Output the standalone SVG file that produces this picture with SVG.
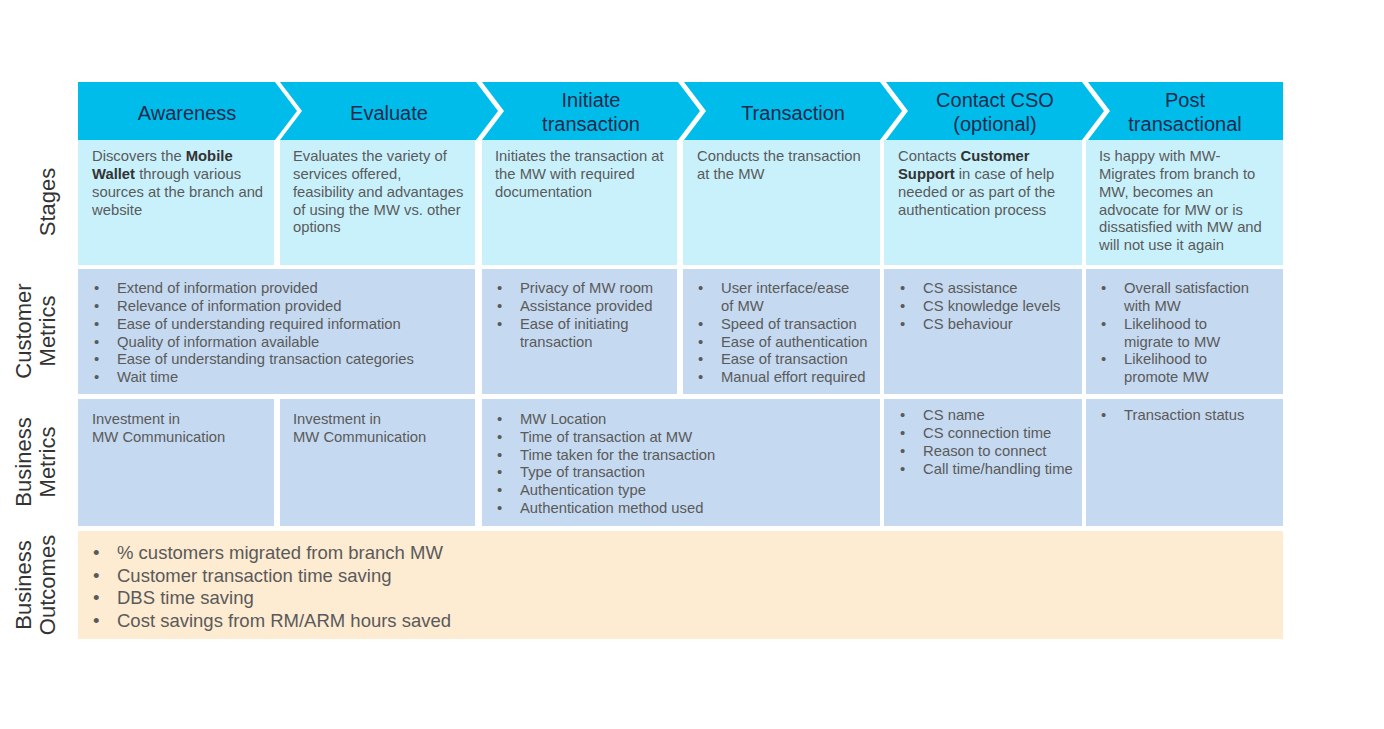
<svg xmlns="http://www.w3.org/2000/svg" width="1384" height="729" viewBox="0 0 1384 729">
<style>
.hd{fill:#00BCEB}
.st{fill:#C8F1FC}
.mt{fill:#C5D9F0}
.oc{fill:#FDEBD2}
.ht{font-family:"Liberation Sans",Arial,sans-serif;font-size:20px;fill:#1E2B4C;text-anchor:middle}
.tx{font-family:"Liberation Sans",Arial,sans-serif;font-size:14.8px;fill:#5A5A5A}
.b{font-weight:bold;fill:#333333}
.ob{font-family:"Liberation Sans",Arial,sans-serif;font-size:18.5px;fill:#5A5A5A}
.lb{font-family:"Liberation Sans",Arial,sans-serif;font-size:22px;fill:#333333;text-anchor:middle}
</style>
<rect width="1384" height="729" fill="#ffffff"/>

<g id="row-labels">
<text class="lb" transform="rotate(-90)" x="-202" y="55">Stages</text>
<text class="lb" transform="rotate(-90)" x="-331" y="31">Customer</text>
<text class="lb" transform="rotate(-90)" x="-331" y="55">Metrics</text>
<text class="lb" transform="rotate(-90)" x="-462" y="31">Business</text>
<text class="lb" transform="rotate(-90)" x="-462" y="55">Metrics</text>
<text class="lb" transform="rotate(-90)" x="-585" y="31">Business</text>
<text class="lb" transform="rotate(-90)" x="-585" y="55">Outcomes</text>
</g>

<g id="header-awareness">
<path class="hd" d="M78,82 L275,82 L297,111 L275,140 L78,140 Z"/>
<text class="ht" x="187" y="120">Awareness</text>
</g>
<g id="header-evaluate">
<path class="hd" d="M280,82 L476,82 L498,111 L476,140 L280,140 L302,111 Z"/>
<text class="ht" x="389" y="120">Evaluate</text>
</g>
<g id="header-initiate">
<path class="hd" d="M482,82 L678,82 L700,111 L678,140 L482,140 L504,111 Z"/>
<text class="ht" x="591" y="107">Initiate</text>
<text class="ht" x="591" y="131">transaction</text>
</g>
<g id="header-transaction">
<path class="hd" d="M684,82 L880,82 L902,111 L880,140 L684,140 L706,111 Z"/>
<text class="ht" x="793" y="120">Transaction</text>
</g>
<g id="header-contact">
<path class="hd" d="M886,82 L1082,82 L1104,111 L1082,140 L886,140 L908,111 Z"/>
<text class="ht" x="995" y="107">Contact CSO</text>
<text class="ht" x="995" y="131">(optional)</text>
</g>
<g id="header-post">
<path class="hd" d="M1088,82 L1283,82 L1283,140 L1088,140 L1110,111 Z"/>
<text class="ht" x="1185" y="107">Post</text>
<text class="ht" x="1185" y="131">transactional</text>
</g>

<g id="stage-awareness">
<rect class="st" x="78" y="140" width="196" height="125"/>
<text class="tx" x="92" y="161">Discovers the <tspan class="b">Mobile</tspan></text>
<text class="tx" x="92" y="179"><tspan class="b">Wallet</tspan> through various</text>
<text class="tx" x="92" y="197">sources at the branch and</text>
<text class="tx" x="92" y="215">website</text>
</g>
<g id="stage-evaluate">
<rect class="st" x="280" y="140" width="195" height="125"/>
<text class="tx" x="293" y="161">Evaluates the variety of</text>
<text class="tx" x="293" y="179">services offered,</text>
<text class="tx" x="293" y="197">feasibility and advantages</text>
<text class="tx" x="293" y="215">of using the MW vs. other</text>
<text class="tx" x="293" y="232">options</text>
</g>
<g id="stage-initiate">
<rect class="st" x="482" y="140" width="195" height="125"/>
<text class="tx" x="495" y="161">Initiates the transaction at</text>
<text class="tx" x="495" y="179">the MW with required</text>
<text class="tx" x="495" y="197">documentation</text>
</g>
<g id="stage-transaction">
<rect class="st" x="683" y="140" width="197" height="125"/>
<text class="tx" x="697" y="161">Conducts the transaction</text>
<text class="tx" x="697" y="179">at the MW</text>
</g>
<g id="stage-contact">
<rect class="st" x="884" y="140" width="198" height="125"/>
<text class="tx" x="898" y="161">Contacts <tspan class="b">Customer</tspan></text>
<text class="tx" x="898" y="179"><tspan class="b">Support</tspan> in case of help</text>
<text class="tx" x="898" y="197">needed or as part of the</text>
<text class="tx" x="898" y="215">authentication process</text>
</g>
<g id="stage-post">
<rect class="st" x="1086" y="140" width="197" height="125"/>
<text class="tx" x="1099" y="161">Is happy with MW-</text>
<text class="tx" x="1099" y="179">Migrates from branch to</text>
<text class="tx" x="1099" y="197">MW, becomes an</text>
<text class="tx" x="1099" y="215">advocate for MW or is</text>
<text class="tx" x="1099" y="232">dissatisfied with MW and</text>
<text class="tx" x="1099" y="250">will not use it again</text>
</g>

<g id="cm-awareness-evaluate">
<rect class="mt" x="78" y="269" width="397" height="125"/>
<text class="tx" x="94" y="293">•</text><text class="tx" x="117" y="293">Extend of information provided</text>
<text class="tx" x="94" y="311">•</text><text class="tx" x="117" y="311">Relevance of information provided</text>
<text class="tx" x="94" y="329">•</text><text class="tx" x="117" y="329">Ease of understanding required information</text>
<text class="tx" x="94" y="347">•</text><text class="tx" x="117" y="347">Quality of information available</text>
<text class="tx" x="94" y="364">•</text><text class="tx" x="117" y="364">Ease of understanding transaction categories</text>
<text class="tx" x="94" y="382">•</text><text class="tx" x="117" y="382">Wait time</text>
</g>
<g id="cm-initiate">
<rect class="mt" x="482" y="269" width="195" height="125"/>
<text class="tx" x="497" y="293">•</text><text class="tx" x="520" y="293">Privacy of MW room</text>
<text class="tx" x="497" y="311">•</text><text class="tx" x="520" y="311">Assistance provided</text>
<text class="tx" x="497" y="329">•</text><text class="tx" x="520" y="329">Ease of initiating</text>
<text class="tx" x="520" y="347">transaction</text>
</g>
<g id="cm-transaction">
<rect class="mt" x="683" y="269" width="197" height="125"/>
<text class="tx" x="698" y="293">•</text><text class="tx" x="721" y="293">User interface/ease</text>
<text class="tx" x="721" y="311">of MW</text>
<text class="tx" x="698" y="329">•</text><text class="tx" x="721" y="329">Speed of transaction</text>
<text class="tx" x="698" y="347">•</text><text class="tx" x="721" y="347">Ease of authentication</text>
<text class="tx" x="698" y="364">•</text><text class="tx" x="721" y="364">Ease of transaction</text>
<text class="tx" x="698" y="382">•</text><text class="tx" x="721" y="382">Manual effort required</text>
</g>
<g id="cm-contact">
<rect class="mt" x="884" y="269" width="198" height="125"/>
<text class="tx" x="900" y="293">•</text><text class="tx" x="923" y="293">CS assistance</text>
<text class="tx" x="900" y="311">•</text><text class="tx" x="923" y="311">CS knowledge levels</text>
<text class="tx" x="900" y="329">•</text><text class="tx" x="923" y="329">CS behaviour</text>
</g>
<g id="cm-post">
<rect class="mt" x="1086" y="269" width="197" height="125"/>
<text class="tx" x="1101" y="293">•</text><text class="tx" x="1124" y="293">Overall satisfaction</text>
<text class="tx" x="1124" y="311">with MW</text>
<text class="tx" x="1101" y="329">•</text><text class="tx" x="1124" y="329">Likelihood to</text>
<text class="tx" x="1124" y="347">migrate to MW</text>
<text class="tx" x="1101" y="364">•</text><text class="tx" x="1124" y="364">Likelihood to</text>
<text class="tx" x="1124" y="382">promote MW</text>
</g>

<g id="bm-awareness">
<rect class="mt" x="78" y="399" width="196" height="127"/>
<text class="tx" x="92" y="424">Investment in</text>
<text class="tx" x="92" y="442">MW Communication</text>
</g>
<g id="bm-evaluate">
<rect class="mt" x="280" y="399" width="195" height="127"/>
<text class="tx" x="293" y="424">Investment in</text>
<text class="tx" x="293" y="442">MW Communication</text>
</g>
<g id="bm-initiate-transaction">
<rect class="mt" x="482" y="399" width="398" height="127"/>
<text class="tx" x="497" y="424">•</text><text class="tx" x="520" y="424">MW Location</text>
<text class="tx" x="497" y="442">•</text><text class="tx" x="520" y="442">Time of transaction at MW</text>
<text class="tx" x="497" y="460">•</text><text class="tx" x="520" y="460">Time taken for the transaction</text>
<text class="tx" x="497" y="477">•</text><text class="tx" x="520" y="477">Type of transaction</text>
<text class="tx" x="497" y="495">•</text><text class="tx" x="520" y="495">Authentication type</text>
<text class="tx" x="497" y="513">•</text><text class="tx" x="520" y="513">Authentication method used</text>
</g>
<g id="bm-contact">
<rect class="mt" x="884" y="399" width="198" height="127"/>
<text class="tx" x="900" y="420">•</text><text class="tx" x="923" y="420">CS name</text>
<text class="tx" x="900" y="438">•</text><text class="tx" x="923" y="438">CS connection time</text>
<text class="tx" x="900" y="456">•</text><text class="tx" x="923" y="456">Reason to connect</text>
<text class="tx" x="900" y="474">•</text><text class="tx" x="923" y="474">Call time/handling time</text>
</g>
<g id="bm-post">
<rect class="mt" x="1086" y="399" width="197" height="127"/>
<text class="tx" x="1101" y="420">•</text><text class="tx" x="1124" y="420">Transaction status</text>
</g>

<g id="business-outcomes">
<rect class="oc" x="78" y="531" width="1205" height="108"/>
<text class="ob" x="93" y="559">•</text><text class="ob" x="117" y="559">% customers migrated from branch MW</text>
<text class="ob" x="93" y="582">•</text><text class="ob" x="117" y="582">Customer transaction time saving</text>
<text class="ob" x="93" y="604">•</text><text class="ob" x="117" y="604">DBS time saving</text>
<text class="ob" x="93" y="627">•</text><text class="ob" x="117" y="627">Cost savings from RM/ARM hours saved</text>
</g>

<g id="connectors"></g>
</svg>
